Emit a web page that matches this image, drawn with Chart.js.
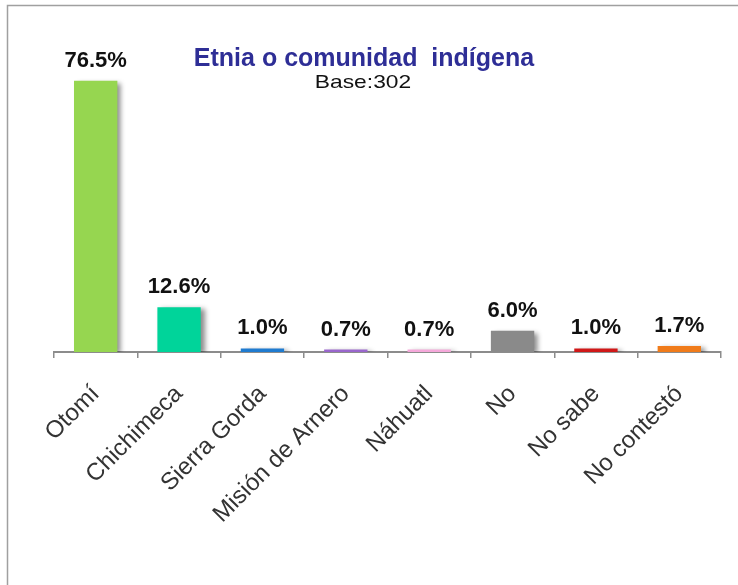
<!DOCTYPE html>
<html>
<head>
<meta charset="utf-8">
<script src="https://cdn.jsdelivr.net/npm/chart.js@4"></script>
<style>
  html, body { margin: 0; padding: 0; background: #fff; overflow: hidden; }
  #wrap { width: 738px; height: 585px; }
</style>
</head>
<body>
<div id="wrap"><canvas id="grafica" width="738" height="585"></canvas></div>
<script>
// Datos de la gráfica
const categorias = ['Otomí', 'Chichimeca', 'Sierra Gorda', 'Misión de Arnero', 'Náhuatl', 'No', 'No sabe', 'No contestó'];
const porcentajes = [76.5, 12.6, 1.0, 0.7, 0.7, 6.0, 1.0, 1.7];
const colores = ['#96D650', '#00D49A', '#1F7BD0', '#9966CC', '#F5A8DA', '#8A8A8A', '#D01818', '#F07B1A'];
const titulo = 'Etnia o comunidad  indígena';
const subtitulo = 'Base:302';

// Sombra gris a la derecha de cada barra
const sombraBarras = {
  id: 'sombraBarras',
  beforeDatasetsDraw(chart) {
    const ctx = chart.ctx;
    ctx.save();
    ctx.shadowColor = 'rgba(0,0,0,0.45)';
    ctx.shadowBlur = 5;
    ctx.shadowOffsetX = 4;
    ctx.shadowOffsetY = 2;
  },
  afterDatasetsDraw(chart) {
    chart.ctx.restore();
  }
};

// Marco, títulos y etiquetas de valor
const decoracion = {
  id: 'decoracion',
  beforeDraw(chart) {
    const ctx = chart.ctx;
    ctx.save();
    ctx.strokeStyle = '#A0A0A0';
    ctx.lineWidth = 1.5;
    ctx.strokeRect(7.5, 5.5, 900, 900);
    ctx.restore();
  },
  afterDraw(chart) {
    const ctx = chart.ctx;
    ctx.save();
    ctx.textAlign = 'center';
    ctx.textBaseline = 'alphabetic';

    ctx.fillStyle = '#2E2E96';
    ctx.font = 'bold 25px "Liberation Sans", Arial, sans-serif';
    ctx.fillText(titulo, 364, 66);

    ctx.save();
    ctx.translate(363, 88);
    ctx.scale(1.2, 1);
    ctx.fillStyle = '#111';
    ctx.font = '19px "Liberation Sans", Arial, sans-serif';
    ctx.fillText(subtitulo, 0, 0);
    ctx.restore();

    // etiquetas encima de cada barra
    ctx.fillStyle = '#111';
    ctx.font = 'bold 22px "Liberation Sans", Arial, sans-serif';
    const meta = chart.getDatasetMeta(0);
    meta.data.forEach((bar, i) => {
      ctx.fillText(porcentajes[i].toFixed(1) + '%', bar.x, bar.y - 14);
    });
    ctx.restore();
  }
};

const ctx = document.getElementById('grafica').getContext('2d');
new Chart(ctx, {
  type: 'bar',
  data: {
    labels: categorias,
    datasets: [{
      data: porcentajes,
      backgroundColor: colores,
      borderWidth: 0,
      categoryPercentage: 1,
      barPercentage: 0.52
    }]
  },
  options: {
    responsive: false,
    animation: false,
    layout: { padding: { top: 40, left: 54, right: 17, bottom: 0 } },
    plugins: {
      legend: { display: false },
      tooltip: { enabled: false }
    },
    scales: {
      x: {
        offset: true,
        grid: { display: true, drawOnChartArea: false, drawTicks: true, tickLength: 6, color: '#8C8C8C', lineWidth: 1.5 },
        border: { display: true, color: '#8C8C8C', width: 2 },
        ticks: {
          autoSkip: false,
          maxRotation: 45,
          minRotation: 45,
          color: '#333',
          padding: 22,
          font: { family: '"Liberation Sans", Arial, sans-serif', size: 24 }
        },
        afterFit(scale) { scale.height = 233; }
      },
      y: {
        display: false,
        min: 0,
        max: 88
      }
    }
  },
  plugins: [sombraBarras, decoracion]
});
</script>
</body>
</html>
